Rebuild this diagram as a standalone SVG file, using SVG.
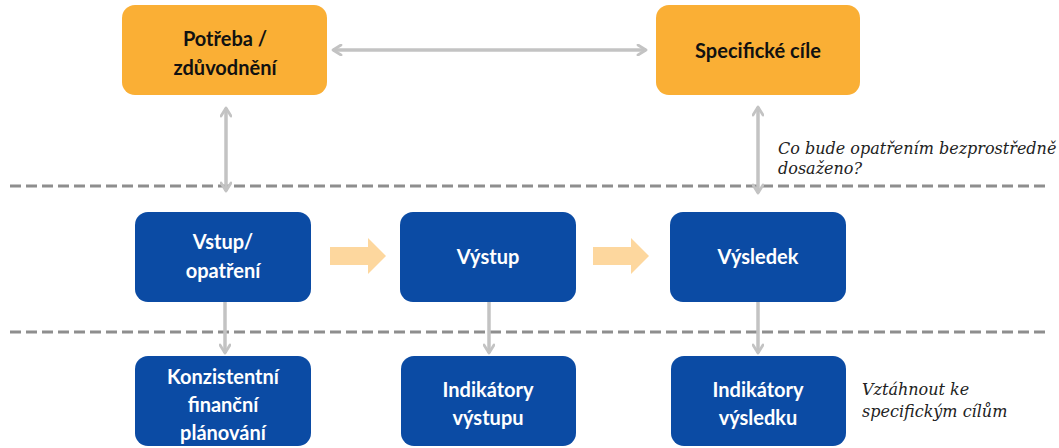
<svg xmlns="http://www.w3.org/2000/svg" width="1059" height="448" viewBox="0 0 1059 448">
<defs>
<style>
.org{fill:#FAAF35}
.blu{fill:#0B4BA4}
.tb{font-family:Lato,"Open Sans",sans-serif;font-weight:bold;font-size:20px;text-anchor:middle;dominant-baseline:central}
.tw{fill:#ffffff}
.tk{fill:#111111}
.it{font-family:"DejaVu Serif",serif;font-style:italic;font-size:16px;fill:#222222}
.dash{stroke:#8E8E8E;stroke-width:3;stroke-dasharray:11 5;fill:none}
.con{stroke:#C3C3C3;stroke-width:3.5;fill:none}
.pea{fill:#FDD79E}
</style>
<marker id="ah" viewBox="0 0 12 12" refX="10" refY="6" markerWidth="12" markerHeight="12" markerUnits="userSpaceOnUse" orient="auto-start-reverse">
<path d="M2,1 L10,6 L2,11" fill="none" stroke="#C3C3C3" stroke-width="2.8" stroke-linecap="round" stroke-linejoin="round"/>
</marker>
</defs>
<rect width="1059" height="448" fill="#ffffff"/>
<g id="dividers">
<line class="dash" x1="10" y1="186" x2="1046" y2="186"/>
<line class="dash" x1="10" y1="332" x2="1046" y2="332"/>
</g>
<g id="connectors">
<line class="con" x1="333" y1="50" x2="646" y2="50" marker-start="url(#ah)" marker-end="url(#ah)"/>
<line class="con" x1="226" y1="108" x2="226" y2="191" marker-start="url(#ah)" marker-end="url(#ah)"/>
<line class="con" x1="758" y1="107" x2="758" y2="193" marker-start="url(#ah)" marker-end="url(#ah)"/>
<line class="con" x1="225" y1="302" x2="225" y2="353" marker-end="url(#ah)"/>
<line class="con" x1="489" y1="302" x2="489" y2="353" marker-end="url(#ah)"/>
<line class="con" x1="758" y1="302" x2="758" y2="353" marker-end="url(#ah)"/>
<path class="pea" d="M330,247 H368 V238 L386,256 L368,274 V265 H330 Z"/>
<path class="pea" d="M593,247 H631 V238 L649,256 L631,274 V265 H593 Z"/>
</g>
<g id="potreba">
<rect class="org" x="122" y="5" width="205" height="90" rx="13"/>
<text class="tb tk" x="225" y="38">Potřeba /</text>
<text class="tb tk" x="225" y="67">zdůvodnění</text>
</g>
<g id="specificke">
<rect class="org" x="656" y="5" width="204" height="90" rx="13"/>
<text class="tb tk" x="758" y="50">Specifické cíle</text>
</g>
<g id="q1">
<text class="it" x="778" y="154">Co bude opatřením bezprostředně</text>
<text class="it" x="778" y="174">dosaženo?</text>
</g>
<g id="vstup">
<rect class="blu" x="135" y="212" width="176" height="90" rx="13"/>
<text class="tb tw" x="223" y="241">Vstup/</text>
<text class="tb tw" x="223" y="270">opatření</text>
</g>
<g id="vystup">
<rect class="blu" x="400" y="212" width="176" height="90" rx="13"/>
<text class="tb tw" x="488" y="256">Výstup</text>
</g>
<g id="vysledek">
<rect class="blu" x="670" y="212" width="176" height="90" rx="13"/>
<text class="tb tw" x="758" y="256">Výsledek</text>
</g>
<g id="konzistentni">
<rect class="blu" x="135" y="356" width="176" height="90" rx="13"/>
<text class="tb tw" x="223" y="376">Konzistentní</text>
<text class="tb tw" x="223" y="404">finanční</text>
<text class="tb tw" x="223" y="432">plánování</text>
</g>
<g id="ind-vystupu">
<rect class="blu" x="401" y="356" width="175" height="90" rx="13"/>
<text class="tb tw" x="488" y="389">Indikátory</text>
<text class="tb tw" x="488" y="417">výstupu</text>
</g>
<g id="ind-vysledku">
<rect class="blu" x="671" y="356" width="175" height="90" rx="13"/>
<text class="tb tw" x="758" y="389">Indikátory</text>
<text class="tb tw" x="758" y="417">výsledku</text>
</g>
<g id="q2">
<text class="it" x="862" y="395">Vztáhnout ke</text>
<text class="it" x="862" y="417">specifickým cílům</text>
</g>
</svg>
